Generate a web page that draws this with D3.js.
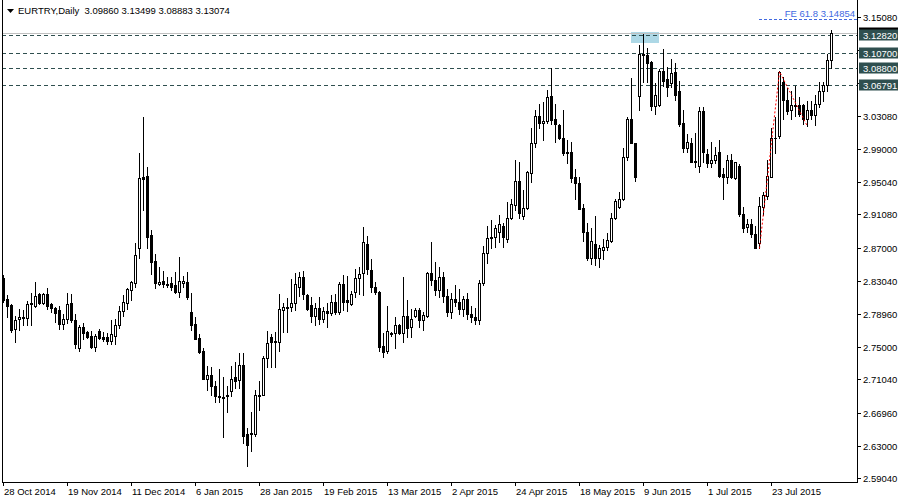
<!DOCTYPE html>
<html>
<head>
<meta charset="utf-8">
<script src="https://cdnjs.cloudflare.com/ajax/libs/d3/7.8.5/d3.min.js"></script>
<style>
body { margin: 0; background: #fff; }
svg text { font-family: "Liberation Sans", Arial, sans-serif; font-size: 9.5px; }
</style>
</head>
<body>
<svg width="900" height="500"></svg>
<script>
var symbol = "EURTRY", period = "Daily";

// daily bars, 28 Oct 2014 .. last bar
var opens = [
2.834,2.808,2.801,2.772,2.784,2.785,2.785,2.803,2.800,2.814,2.803,2.814,2.802,2.797,2.795,2.778,2.784,2.803,2.783,2.748,
2.774,2.768,2.763,2.750,2.769,2.762,2.762,2.757,2.763,2.776,2.794,2.803,2.819,2.828,2.870,2.956,2.957,2.886,2.854,2.826,
2.830,2.826,2.828,2.825,2.817,2.828,2.829,2.792,2.778,2.761,2.745,2.711,2.716,2.703,2.690,2.689,2.690,2.696,2.713,2.710,
2.728,2.644,2.644,2.644,2.691,2.692,2.736,2.762,2.756,2.756,2.795,2.798,2.798,2.803,2.823,2.835,2.813,2.801,2.788,2.797,
2.784,2.794,2.791,2.805,2.792,2.826,2.807,2.802,2.817,2.834,2.840,2.875,2.843,2.823,2.817,2.751,2.745,2.765,2.767,2.776,
2.767,2.788,2.774,2.788,2.795,2.782,2.788,2.840,2.831,2.819,2.835,2.812,2.792,2.808,2.805,2.796,2.808,2.790,2.786,2.782,
2.828,2.864,2.882,2.883,2.889,2.897,2.881,2.906,2.922,2.951,2.909,2.918,2.961,2.998,3.030,3.022,3.024,3.055,3.026,3.019,
3.004,2.985,2.986,2.956,2.949,2.918,2.889,2.858,2.875,2.858,2.868,2.871,2.878,2.906,2.920,2.929,2.980,3.026,2.997,3.054,
3.105,3.104,3.096,3.042,3.043,3.085,3.075,3.070,3.084,3.061,3.022,2.991,2.998,2.975,2.970,3.036,2.984,2.973,2.977,2.986,
2.960,2.956,2.977,2.955,2.970,2.911,2.895,2.899,2.887,2.876,2.920,2.933,2.956,3.004,3.006,3.072,3.050,3.038,3.042,3.044,
3.044,3.026,3.037,3.032,3.045,3.060,3.068,3.09860];
var highs = [
2.837,2.813,2.802,2.788,2.796,2.795,2.806,2.815,2.829,2.815,2.815,2.821,2.803,2.798,2.800,2.790,2.815,2.814,2.790,2.776,
2.779,2.769,2.769,2.765,2.772,2.768,2.767,2.782,2.784,2.800,2.813,2.821,2.830,2.876,2.985,3.029,2.968,2.892,2.863,2.847,
2.842,2.835,2.835,2.841,2.859,2.836,2.841,2.815,2.786,2.765,2.749,2.727,2.725,2.708,2.723,2.713,2.703,2.727,2.732,2.743,
2.743,2.652,2.671,2.697,2.708,2.739,2.769,2.766,2.768,2.814,2.803,2.809,2.832,2.840,2.841,2.842,2.814,2.811,2.803,2.811,
2.798,2.803,2.813,2.814,2.829,2.837,2.836,2.818,2.845,2.847,2.895,2.885,2.857,2.829,2.818,2.767,2.800,2.768,2.786,2.778,
2.835,2.807,2.796,2.797,2.797,2.792,2.841,2.877,2.853,2.847,2.841,2.820,2.815,2.825,2.820,2.812,2.815,2.800,2.797,2.831,
2.873,2.897,2.904,2.898,2.910,2.900,2.926,2.929,2.977,2.975,2.941,2.964,3.016,3.037,3.045,3.047,3.062,3.089,3.045,3.020,
3.038,3.001,2.999,2.966,2.956,2.924,2.900,2.894,2.909,2.874,2.881,2.888,2.912,2.930,2.938,2.992,3.029,3.076,2.998,3.116,
3.130,3.113,3.097,3.070,3.087,3.111,3.090,3.099,3.095,3.073,3.037,3.009,3.004,3.010,3.041,3.041,2.990,2.999,2.993,3.001,
2.967,2.983,2.984,2.975,2.972,2.920,2.905,2.905,2.897,2.932,2.938,2.977,3.016,3.029,3.085,3.077,3.064,3.060,3.067,3.053,
3.045,3.048,3.048,3.056,3.072,3.072,3.106,3.13499];
var lows = [
2.805,2.786,2.768,2.756,2.771,2.776,2.776,2.776,2.798,2.802,2.802,2.796,2.792,2.780,2.772,2.772,2.779,2.780,2.748,2.745,
2.760,2.761,2.748,2.745,2.759,2.757,2.753,2.753,2.753,2.773,2.788,2.796,2.807,2.823,2.858,2.916,2.870,2.839,2.821,2.825,
2.823,2.823,2.819,2.815,2.811,2.823,2.808,2.771,2.759,2.743,2.711,2.698,2.692,2.683,2.683,2.641,2.671,2.690,2.700,2.700,
2.633,2.605,2.623,2.642,2.673,2.691,2.725,2.726,2.726,2.745,2.768,2.768,2.794,2.795,2.812,2.808,2.795,2.780,2.776,2.778,
2.780,2.774,2.789,2.790,2.790,2.795,2.794,2.801,2.811,2.814,2.813,2.839,2.817,2.814,2.745,2.738,2.742,2.763,2.748,2.765,
2.756,2.762,2.762,2.786,2.774,2.771,2.786,2.825,2.813,2.810,2.805,2.787,2.785,2.800,2.790,2.787,2.784,2.780,2.778,2.778,
2.825,2.852,2.870,2.871,2.877,2.871,2.877,2.905,2.916,2.907,2.905,2.917,2.950,2.993,3.016,3.001,3.022,3.021,2.999,3.002,
2.983,2.973,2.950,2.930,2.917,2.878,2.855,2.851,2.849,2.847,2.857,2.868,2.877,2.905,2.918,2.928,2.977,2.997,2.951,3.038,
3.071,3.071,3.037,3.033,3.042,3.067,3.055,3.066,3.050,3.018,2.986,2.987,2.974,2.968,2.962,2.975,2.968,2.968,2.973,2.956,
2.929,2.949,2.955,2.954,2.909,2.889,2.890,2.883,2.870,2.870,2.910,2.930,2.956,2.985,3.004,3.027,3.033,3.027,3.030,3.030,
3.021,3.018,3.027,3.019,3.041,3.049,3.061,3.08883];
var closes = [
2.807,2.800,2.771,2.782,2.786,2.786,2.802,2.802,2.812,2.803,2.814,2.800,2.797,2.791,2.778,2.784,2.802,2.783,2.753,2.774,
2.767,2.762,2.750,2.763,2.761,2.760,2.757,2.766,2.777,2.794,2.805,2.820,2.829,2.861,2.955,2.954,2.883,2.853,2.828,2.829,
2.826,2.825,2.823,2.817,2.830,2.830,2.811,2.777,2.760,2.744,2.711,2.716,2.703,2.690,2.689,2.688,2.691,2.711,2.708,2.728,
2.642,2.631,2.646,2.691,2.690,2.736,2.755,2.756,2.757,2.796,2.798,2.797,2.803,2.826,2.835,2.814,2.796,2.788,2.797,2.784,
2.794,2.791,2.805,2.792,2.826,2.805,2.805,2.814,2.834,2.839,2.877,2.845,2.823,2.817,2.750,2.744,2.769,2.767,2.776,2.767,
2.788,2.773,2.784,2.795,2.782,2.789,2.840,2.831,2.819,2.835,2.812,2.792,2.808,2.805,2.796,2.808,2.790,2.786,2.782,2.828,
2.864,2.882,2.883,2.894,2.899,2.883,2.906,2.924,2.951,2.912,2.918,2.962,2.998,3.030,3.022,3.024,3.053,3.025,3.021,3.004,
2.985,2.986,2.955,2.949,2.917,2.889,2.858,2.878,2.858,2.870,2.871,2.880,2.906,2.927,2.930,2.980,3.027,2.998,2.956,3.105,
3.104,3.095,3.042,3.056,3.085,3.073,3.066,3.082,3.056,3.021,2.991,2.999,2.975,2.976,3.036,2.987,2.973,2.977,2.983,2.958,
2.956,2.977,2.956,2.974,2.911,2.894,2.899,2.887,2.870,2.921,2.934,2.957,3.004,3.003,3.084,3.050,3.036,3.043,3.043,3.033,
3.026,3.038,3.032,3.045,3.060,3.068,3.09860,3.13074];

var dateTickIdx = [0,16,32,48,64,80,96,112,128,144,160,176,192];
var dateTickLabels = ["28 Oct 2014","19 Nov 2014","11 Dec 2014","6 Jan 2015","28 Jan 2015","19 Feb 2015",
  "13 Mar 2015","2 Apr 2015","24 Apr 2015","18 May 2015","9 Jun 2015","1 Jul 2015","23 Jul 2015"];
var priceTicks = [3.1508,3.1100,3.0704,3.0308,2.9900,2.9504,2.9108,2.8700,2.8304,2.7896,2.7500,2.7104,2.6696,2.6300,2.5904];

// horizontal levels drawn on the chart
var levelPrices = [3.12820, 3.10700, 3.08800, 3.06791];
// fibonacci expansion points (bar index, price) and its level
var feIdx = [189, 194, 201];
var fePrice = [2.870, 3.085, 3.018];
var feLevelName = "FE 61.8", feLevelPrice = 3.14854;
// highlight rectangle (bar indices, prices)
var rectIdx = [157, 164];
var rectPrice = [3.1322, 3.1189];

var svg = d3.select("svg");
var left = 2, right = 857, bottom = 482;

var x = d3.scaleLinear().domain([0, 1]).range([3, 7]);
var y = d3.scaleLinear().domain([2.5904, 3.1508]).range([478.3, 16.7]);
var px = function(i) { return Math.round(x(i)); };
var py = function(v) { return Math.round(y(v)); };

svg.append("rect").attr("width", 900).attr("height", 500).attr("fill", "#fff");

// highlight box
svg.append("rect")
  .attr("x", px(rectIdx[0])).attr("y", py(rectPrice[0]))
  .attr("width", px(rectIdx[1]) - px(rectIdx[0]))
  .attr("height", py(rectPrice[1]) - py(rectPrice[0]))
  .attr("fill", "#add8e6");

// bid line
var lastClose = closes[closes.length - 1];
svg.append("line")
  .attr("x1", left).attr("x2", right)
  .attr("y1", py(lastClose) + 0.5).attr("y2", py(lastClose) + 0.5)
  .attr("stroke", "#c0c0c0");

// level lines
svg.selectAll(".lvl").data(levelPrices).enter().append("line")
  .attr("class", "lvl")
  .attr("x1", left).attr("x2", right)
  .attr("y1", function(d) { return py(d) + 0.5; })
  .attr("y2", function(d) { return py(d) + 0.5; })
  .attr("stroke", "#2f4f4f").attr("stroke-dasharray", "4,3");

// FE level
svg.append("line")
  .attr("x1", px(feIdx[0])).attr("x2", right)
  .attr("y1", py(feLevelPrice) + 0.5).attr("y2", py(feLevelPrice) + 0.5)
  .attr("stroke", "#4169e1").attr("stroke-dasharray", "3,2");
svg.append("text")
  .attr("x", right - 2).attr("y", py(feLevelPrice) - 2)
  .attr("text-anchor", "end").attr("fill", "#4169e1")
  .text(feLevelName + " " + feLevelPrice.toFixed(5));

// candles
var bars = d3.range(opens.length);
var g = svg.append("g");
g.selectAll(".wick").data(bars).enter().append("rect")
  .attr("x", function(i) { return px(i); })
  .attr("y", function(i) { return py(highs[i]); })
  .attr("width", 1)
  .attr("height", function(i) { return py(lows[i]) - py(highs[i]) + 1; })
  .attr("fill", "#000");

g.selectAll(".body").data(bars).enter().append("rect")
  .each(function(i) {
    var top = py(Math.max(opens[i], closes[i])), bot = py(Math.min(opens[i], closes[i]));
    var s = d3.select(this);
    if (closes[i] > opens[i] && bot - top >= 2) {
      s.attr("x", px(i) - 0.5).attr("y", top + 0.5).attr("width", 2).attr("height", bot - top)
        .attr("fill", "#fff").attr("stroke", "#000");
    } else {
      s.attr("x", px(i) - 1).attr("y", top).attr("width", 3).attr("height", bot - top + 1)
        .attr("fill", "#000");
    }
  });

// fibo expansion trend
svg.append("path")
  .attr("d", d3.line()(feIdx.map(function(k, j) { return [px(k) + 0.5, py(fePrice[j]) + 0.5]; })))
  .attr("fill", "none").attr("stroke", "#ff0000").attr("stroke-dasharray", "2,2");

// frame
svg.append("line").attr("x1", right + 0.5).attr("x2", right + 0.5).attr("y1", 0).attr("y2", bottom + 1).attr("stroke", "#000");
svg.append("line").attr("x1", left + 0.5).attr("x2", left + 0.5).attr("y1", 0).attr("y2", bottom + 1).attr("stroke", "#000");
svg.append("line").attr("x1", left).attr("x2", right + 1).attr("y1", bottom + 0.5).attr("y2", bottom + 0.5).attr("stroke", "#000");

// price axis (labels hidden under the level boxes are skipped, as in the terminal)
var covered = function(d) {
  return levelPrices.concat([lastClose]).some(function(v) { return Math.abs(py(v) - py(d)) < 9; });
};
var pt = svg.selectAll(".pt").data(priceTicks).enter().append("g");
pt.append("line")
  .attr("x1", right).attr("x2", right + 4)
  .attr("y1", function(d) { return py(d) + 0.5; }).attr("y2", function(d) { return py(d) + 0.5; })
  .attr("stroke", "#000");
pt.filter(function(d) { return !covered(d); }).append("text")
  .attr("x", right + 6).attr("y", function(d) { return py(d) + 3.5; })
  .text(function(d) { return d.toFixed(5); });

// date axis
var dt = svg.selectAll(".dt").data(dateTickIdx).enter().append("g");
dt.append("line")
  .attr("x1", function(d) { return px(d) + 0.5; }).attr("x2", function(d) { return px(d) + 0.5; })
  .attr("y1", bottom).attr("y2", bottom + 4).attr("stroke", "#000");
dt.append("text")
  .attr("x", function(d) { return px(d) + 1; }).attr("y", 495)
  .text(function(d, j) { return dateTickLabels[j]; });

// bid box (mostly covered) then level labels
svg.append("rect").attr("x", right + 2).attr("y", py(lastClose) - 5.5).attr("width", 39).attr("height", 11).attr("fill", "#000");
levelPrices.forEach(function(v) {
  svg.append("rect").attr("x", right + 2).attr("y", py(v) - 5.5).attr("width", 39).attr("height", 11).attr("fill", "#2f4f4f");
  svg.append("text").attr("x", right + 6).attr("y", py(v) + 3.5).attr("fill", "#fff").text(v.toFixed(5));
});

// title
svg.append("path").attr("d", "M7,9L14,9L10.5,13Z").attr("fill", "#000");
svg.append("text").attr("x", 18).attr("y", 14)
  .style("white-space", "pre")
  .text(symbol + "," + period + "  " + [opens, highs, lows, closes].map(function(a) { return a[a.length - 1].toFixed(5); }).join(" "));
</script>
</body>
</html>
